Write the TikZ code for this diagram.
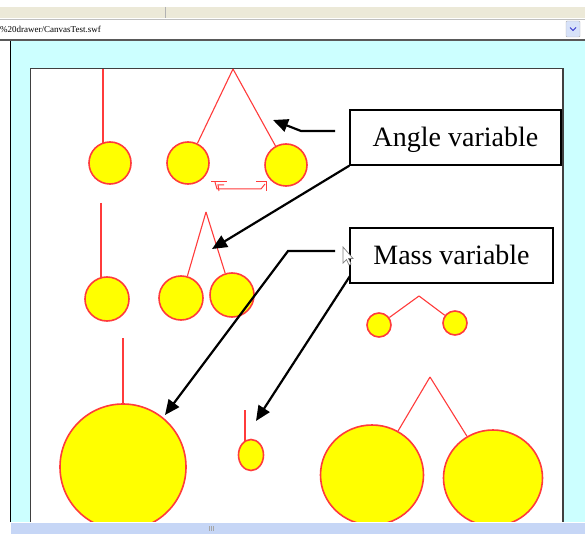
\documentclass[tikz,border=0pt]{standalone}
\usepackage{fontspec}
\setmainfont{Liberation Serif}
\usetikzlibrary{arrows.meta,shapes.geometric}
\definecolor{bgcyan}{HTML}{CCFFFF}
\definecolor{penred}{HTML}{FF3B3B}
\definecolor{bobyellow}{HTML}{FFFF00}
\definecolor{barblue}{HTML}{C6D6F6}
\definecolor{toolbeige}{HTML}{ECE9D8}
\tikzset{
  rod/.style={draw=penred, line width=1.1pt},
  bob/.style={circle, draw=penred, fill=bobyellow, line width=1.6pt, inner sep=0pt, minimum size=#1},
  ebob/.style={ellipse, draw=penred, fill=bobyellow, line width=1.6pt, inner sep=0pt},
  label box/.style={draw=black, line width=1.4pt, fill=white, font=\fontsize{28}{30}\selectfont, inner sep=0pt},
  pointer/.style={draw=black, line width=2.2pt, -{Triangle[length=15pt,width=13pt]}},
  spin/.style={draw=penred, line width=1pt},
}
\begin{document}
\begin{tikzpicture}[x=1pt,y=-1pt]
\useasboundingbox (0,0) rectangle (585,534);
% browser chrome
\fill[white] (0,0) rectangle (585,534);
\fill[toolbeige] (0,7) rectangle (585,18);
\draw[gray!60, line width=0.6pt] (165,7) -- (165,18);
\fill[white] (0,19) rectangle (585,39);
\draw[gray!50, line width=0.6pt] (0,19) -- (585,19);
\node[anchor=west, inner sep=0pt, font=\fontsize{9}{10}\selectfont] (url) at (0,29) {\%20drawer/CanvasTest.swf};
\node[draw=gray!60, fill=barblue!70, minimum width=14pt, minimum height=16pt, inner sep=0pt, rounded corners=1pt] (drop) at (573,29) {};
\draw[gray!40!blue, line width=1pt] (570,27.5) -- (573,30.5) -- (576,27.5);
\fill[gray!70!black] (0,39.5) rectangle (585,41.5);
\fill[bgcyan] (11,41.5) rectangle (585,534);
\draw[black, line width=1.2pt] (10.5,41.5) -- (10.5,534);
% canvas
\draw[fill=white, draw=black!75, line width=1.4pt] (30.5,68.5) rectangle (563,540);
% pendulum 1 (single, top left)
\coordinate (p1top) at (103,69);
\node[bob=42pt] (p1) at (110,163) {};
\draw[rod] (p1top) -- (103,143.3);
% pendulum 2 (double, top)
\coordinate (p2top) at (233,69);
\node[bob=42pt] (p2a) at (188,163) {};
\node[bob=42pt] (p2b) at (286,165) {};
\draw[rod] (p2top) -- (p2a);
\draw[rod] (p2top) -- (p2b);
% rotation indicator
\draw[spin] (211,182) -- (227,182);
\draw[spin] (215,182) -- (217,189) -- (261,189) -- (265,184);
\draw[spin] (224,185) -- (218,185) -- (219,191);
\draw[spin] (256,182) -- (266,182) -- (266,191);
% pendulum 3 (single, middle left)
\coordinate (p3top) at (101,203);
\node[bob=44pt] (p3) at (107,299) {};
\draw[rod] (p3top) -- (101,277.8);
% pendulum 4 (double, middle)
\coordinate (p4top) at (206,212);
\node[bob=44pt] (p4a) at (181,298) {};
\node[bob=44pt] (p4b) at (232,295) {};
\draw[rod] (p4top) -- (p4a);
\draw[rod] (p4top) -- (p4b);
% pendulum 5 (small double)
\coordinate (p5top) at (419,296);
\node[bob=24pt] (p5a) at (379,325) {};
\node[bob=24pt] (p5b) at (455,323) {};
\draw[rod] (p5top) -- (p5a);
\draw[rod] (p5top) -- (p5b);
% pendulum 6 (big single)
\coordinate (p6top) at (123,338);
\node[bob=126pt] (p6) at (123,467) {};
\draw[rod] (p6top) -- (p6);
% pendulum 7 (tiny single)
\coordinate (p7top) at (245,410);
\node[ebob, minimum width=25pt, minimum height=31pt] (p7) at (251,455) {};
\draw[rod] (p7top) -- (245,441);
% pendulum 8 (big double)
\coordinate (p8top) at (430,377);
\node[ebob, minimum width=103pt, minimum height=100pt] (p8a) at (372,475) {};
\node[ebob, minimum width=99pt, minimum height=96pt] (p8b) at (493,478) {};
\draw[rod] (p8top) -- (p8a);
\draw[rod] (p8top) -- (p8b);
% label boxes
\node[label box, minimum width=211pt, minimum height=55pt, text depth=2pt] (angle) at (455.5,137.5) {Angle variable};
\node[label box, minimum width=203pt, minimum height=55pt, text depth=2pt] (mass) at (451.5,255.5) {Mass variable};
% pointers
\coordinate (a1s) at (335,131);
\coordinate (a1k) at (301,131);
\coordinate (a1e) at (273,120);
\draw[pointer] (a1s) -- (a1k) -- (a1e);
\coordinate (a2e) at (212,249);
\draw[pointer] (angle.south west) -- (a2e);
\coordinate (m1s) at (335,251);
\coordinate (m1k) at (288,251);
\coordinate (m1e) at (165,415);
\draw[pointer] (m1s) -- (m1k) -- (m1e);
\coordinate (m2s) at (350,276);
\coordinate (m2e) at (256,421);
\draw[pointer] (m2s) -- (m2e);
% mouse cursor
\draw[fill=white, draw=gray, line width=0.7pt] (343,247) -- (343,263) -- (346.5,259.5) -- (349,265) -- (351,264) -- (348.5,258.5) -- (353,258.5) -- cycle;
% bottom scrollbar
\fill[white] (0,522) rectangle (11,534);
\fill[barblue] (11,522) rectangle (585,534);
\draw[white, line width=0.8pt] (11,522.4) -- (585,522.4);
\foreach \gx in {209.5,211.5,213.5} \draw[gray!70, line width=0.5pt] (\gx,526) -- (\gx,531);
\end{tikzpicture}
\end{document}
